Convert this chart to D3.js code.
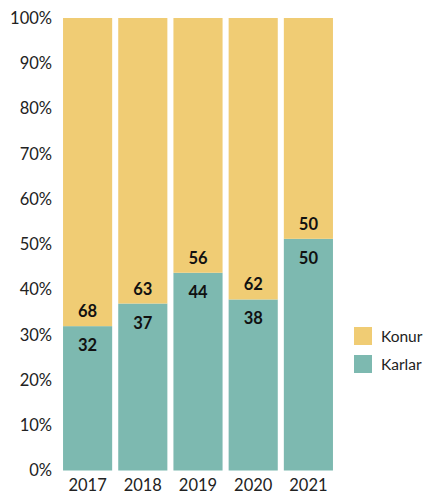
<!DOCTYPE html>
<html>
<head>
<meta charset="utf-8">
<script src="https://cdn.jsdelivr.net/npm/d3@7"></script>
<style>
  body { margin: 0; background: #fff; }
  svg { font-family: Lato, 'Noto Sans', sans-serif; }
</style>
</head>
<body>
<div id="chart"></div>
<script>
var years = ['2017', '2018', '2019', '2020', '2021'];
// bar shares (percent) as drawn
var karlar = [31.9, 36.9, 43.7, 37.8, 51.2];
var konur = [68.1, 63.1, 56.3, 62.2, 48.8];
// printed labels
var karlarLabels = ['32', '37', '44', '38', '50'];
var konurLabels = ['68', '63', '56', '62', '50'];
var yTicks = [0, 10, 20, 30, 40, 50, 60, 70, 80, 90, 100];
var seriesNames = ['Konur', 'Karlar'];

var width = 423;
var height = 494;
var colors = { Konur: '#f0cc74', Karlar: '#7db9b0' };

var svg = d3.select('#chart').append('svg')
  .attr('width', width)
  .attr('height', height);

var x = d3.scaleBand()
  .domain(years)
  .range([60, 336])
  .paddingInner(0.11)
  .paddingOuter(0.055);

var y = d3.scaleLinear()
  .domain([0, 100])
  .range([470.5, 18]);

// y axis
var yAxis = d3.axisLeft(y)
  .tickValues(yTicks)
  .tickSize(0)
  .tickPadding(0)
  .tickFormat(d => d + '%');
var yg = svg.append('g')
  .attr('transform', 'translate(52,0)')
  .call(yAxis);
yg.select('.domain').remove();
yg.selectAll('text')
  .attr('font-size', 16.5)
  .attr('fill', '#222')
  .attr('font-family', 'Lato, sans-serif');

// x axis
var xAxis = d3.axisBottom(x).tickSize(0).tickPadding(0);
var xg = svg.append('g')
  .attr('transform', 'translate(0,479)')
  .call(xAxis);
xg.select('.domain').remove();
xg.selectAll('text')
  .attr('font-size', 16.5)
  .attr('fill', '#222')
  .attr('font-family', 'Lato, sans-serif');

// bars
var bars = svg.append('g');
bars.selectAll('.karlar')
  .data(years)
  .enter().append('rect')
  .attr('x', d => x(d))
  .attr('width', x.bandwidth())
  .attr('y', (d, i) => y(karlar[i]))
  .attr('height', (d, i) => y(0) - y(karlar[i]))
  .attr('fill', colors.Karlar);

bars.selectAll('.konur')
  .data(years)
  .enter().append('rect')
  .attr('x', d => x(d))
  .attr('width', x.bandwidth())
  .attr('y', (d, i) => y(karlar[i] + konur[i]))
  .attr('height', (d, i) => y(karlar[i]) - y(karlar[i] + konur[i]))
  .attr('fill', colors.Konur);

// value labels
var labels = svg.append('g')
  .attr('font-size', 16.5)
  .attr('font-weight', 'bold')
  .attr('text-anchor', 'middle')
  .attr('fill', '#111');

labels.selectAll('.lk')
  .data(years)
  .enter().append('text')
  .attr('x', d => x(d) + x.bandwidth() / 2)
  .attr('y', (d, i) => y(karlar[i]) + 25)
  .text((d, i) => karlarLabels[i]);

labels.selectAll('.lo')
  .data(years)
  .enter().append('text')
  .attr('x', d => x(d) + x.bandwidth() / 2)
  .attr('y', (d, i) => y(karlar[i]) - 9)
  .text((d, i) => konurLabels[i]);

// legend
var legend = svg.append('g').attr('transform', 'translate(354,327)');
seriesNames.forEach((name, i) => {
  var row = legend.append('g').attr('transform', 'translate(0,' + i * 28 + ')');
  row.append('rect')
    .attr('width', 18)
    .attr('height', 18)
    .attr('fill', colors[name]);
  row.append('text')
    .attr('x', 27)
    .attr('y', 15)
    .attr('font-size', 15.5)
    .attr('fill', '#222')
    .text(name);
});
</script>
</body>
</html>
